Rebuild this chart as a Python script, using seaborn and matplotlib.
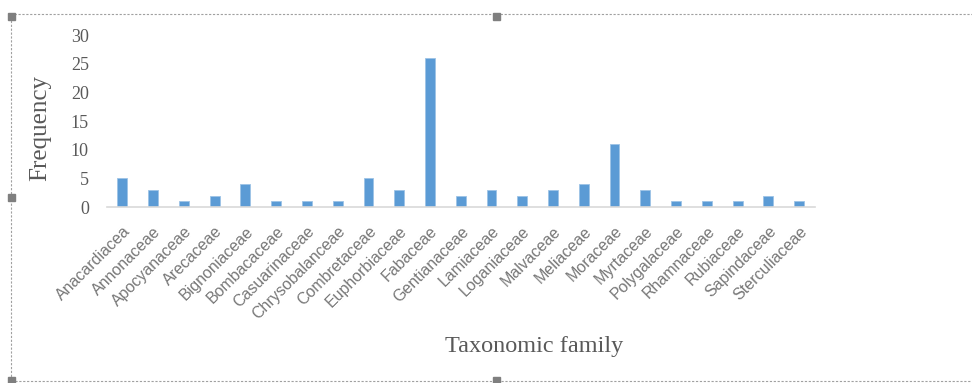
import matplotlib
matplotlib.use("Agg")
import matplotlib.pyplot as plt
import matplotlib.patches as mpatches
import seaborn as sns
import pandas as pd

families = ["Anacardiacea", "Annonaceae", "Apocyanaceae", "Arecaceae", "Bignoniaceae",
            "Bombacaceae", "Casuarinaceae", "Chrysobalanceae", "Combretaceae", "Euphorbiaceae",
            "Fabaceae", "Gentianaceae", "Lamiaceae", "Loganiaceae", "Malvaceae", "Meliaceae",
            "Moraceae", "Myrtaceae", "Polygalaceae", "Rhamnaceae", "Rubiaceae", "Sapindaceae",
            "Sterculiaceae"]
frequency = [5, 3, 1, 2, 4, 1, 1, 1, 5, 3, 26, 2, 3, 2, 3, 4, 11, 3, 1, 1, 1, 2, 1]
yticks = [0, 5, 10, 15, 20, 25, 30]

df = pd.DataFrame({"family": families, "freq": frequency})

sns.set_theme(style="white")
gray = "#595959"
fig = plt.figure(figsize=(9.72, 3.83), dpi=100)
ax = fig.add_axes([0.110, 0.4595, 0.728, 0.449])
sns.barplot(data=df, x="family", y="freq", color="#5B9BD5", width=0.32,
            saturation=1, ax=ax, edgecolor="#9DC3E6", linewidth=0.6)
ax.set_ylim(0, 30)
ax.set_yticks(yticks)
ax.set_yticklabels([str(v) for v in yticks], family="Liberation Serif", fontsize=13, color=gray)
ax.set_xticks(range(len(families)))
ax.set_xticklabels(families, rotation=45, ha="right", rotation_mode="anchor",
                   family="Liberation Sans", fontsize=11.5, color="#777777")
ax.tick_params(axis="both", length=0)
ax.tick_params(axis="x", pad=12)
ax.tick_params(axis="y", pad=13)
for s in ["top", "right", "left"]:
    ax.spines[s].set_visible(False)
ax.spines["bottom"].set_color("#D9D9D9")
ax.spines["bottom"].set_linewidth(1.2)
ax.set_xlabel("")
ax.set_ylabel("")
fig.text(0.041, 0.666, "Frequency", rotation=90, ha="center", va="center",
         family="Liberation Serif", fontsize=18, color=gray)
fig.text(0.550, 0.094, "Taxonomic family", ha="center", va="center",
         family="Liberation Serif", fontsize=17.5, color=gray)

# chart-area frame with selection handles
W, H = 972, 383
def px(x, y):
    return x / W, 1 - y / H
x0, y0 = px(11, 14)
x1, y1 = px(1000, 381)
fig.add_artist(mpatches.Rectangle((x0, y1), x1 - x0, y0 - y1, transform=fig.transFigure,
                                  fill=False, edgecolor="#A0A0A0", linewidth=0.8,
                                  linestyle=(0, (2, 1.5)), clip_on=False))
for hx, hy in [(11, 16), (496, 16), (11, 197), (11, 380), (496, 380)]:
    cx, cy = px(hx, hy)
    fig.add_artist(mpatches.Rectangle((cx - 3.5 / W, cy - 3.5 / H), 7 / W, 7 / H,
                                      transform=fig.transFigure, color="#7F7F7F",
                                      clip_on=False))

fig.savefig("out.png", dpi=100)
